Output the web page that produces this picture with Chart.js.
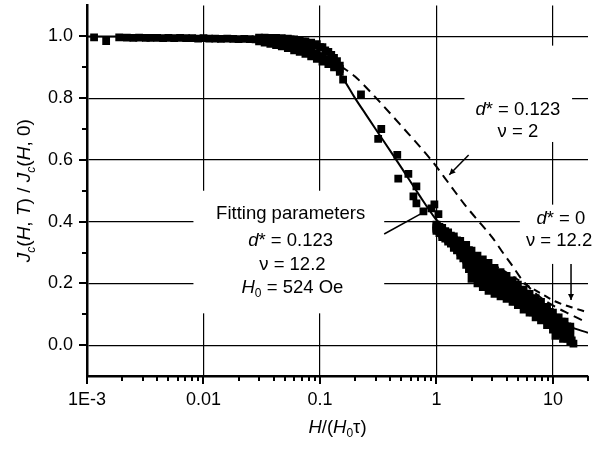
<!DOCTYPE html>
<html>
<head>
<meta charset="utf-8">
<script src="https://cdn.jsdelivr.net/npm/chart.js@4/dist/chart.umd.min.js"></script>
<style>
  html, body { margin: 0; padding: 0; background: #fff; }
  canvas { display: block; }
</style>
</head>
<body>
<canvas id="chart" width="606" height="449"></canvas>
<script>
// measured points: low field plateau
var lowX = [0.00115, 0.00146, 0.00189, 0.0022, 0.0025, 0.0028, 0.0032, 0.0035, 0.004, 0.0045, 0.005, 0.0056, 0.0063,
  0.0071, 0.008, 0.009, 0.01, 0.0112, 0.0126, 0.0141, 0.016, 0.018, 0.02, 0.0224, 0.025, 0.028];
var lowY = [0.997, 0.985, 0.997, 0.996, 0.995, 0.996, 0.995, 0.995, 0.995, 0.994, 0.995, 0.994, 0.995,
  0.994, 0.994, 0.993, 0.994, 0.993, 0.993, 0.992, 0.993, 0.992, 0.991, 0.992, 0.991, 0.99];

// the knee, where the band of points gets thicker
var kneeX = [0.03, 0.0335, 0.0375, 0.042, 0.047, 0.053, 0.06, 0.067, 0.075, 0.084, 0.094, 0.105, 0.118, 0.132, 0.148];
var kneeTop = [0.996, 0.996, 0.995, 0.995, 0.994, 0.993, 0.99, 0.987, 0.984, 0.98, 0.975, 0.965, 0.95, 0.93, 0.905];
var kneeMid = [0.99, 0.988, 0.985, 0.983, 0.98, 0.976, 0.97, 0.965, 0.958, 0.952, 0.945, 0.935, 0.922, 0.91, 0.895];
var kneeBot = [0.984, 0.98, 0.976, 0.972, 0.968, 0.962, 0.955, 0.95, 0.943, 0.935, 0.927, 0.918, 0.91, 0.9, 0.885];
var kneeX2 = [0.0317, 0.0355, 0.0397, 0.0445, 0.05, 0.056, 0.063, 0.071, 0.079, 0.089, 0.1, 0.111, 0.125, 0.14];
var kneeUp = [0.995, 0.994, 0.993, 0.992, 0.991, 0.99, 0.986, 0.983, 0.978, 0.972, 0.965, 0.955, 0.94, 0.92];
var kneeLow = [0.987, 0.983, 0.98, 0.977, 0.973, 0.968, 0.962, 0.957, 0.95, 0.943, 0.935, 0.926, 0.915, 0.903];

// scattered points on the steep part
var midX = [0.158, 0.225, 0.316, 0.336, 0.461, 0.47, 0.574, 0.634, 0.673, 0.673, 0.773, 0.906, 0.96, 1.04];
var midY = [0.86, 0.812, 0.668, 0.70, 0.616, 0.539, 0.555, 0.482, 0.514, 0.459, 0.433, 0.443, 0.456, 0.424];

// high field cloud, several sweeps
var cloudX = [1.0, 1.12, 1.26, 1.41, 1.6, 1.8, 2.0, 2.25, 2.5, 2.8, 3.15, 3.55, 4.0, 4.5, 5.0, 5.6, 6.3, 7.1, 7.9, 8.9, 10, 11.2, 12.6, 14.1];
var cloudA = [0.39, 0.38, 0.365, 0.352, 0.338, 0.325, 0.306, 0.29, 0.278, 0.266, 0.25, 0.236, 0.224, 0.21, 0.196, 0.18, 0.166, 0.152, 0.14, 0.124, 0.105, 0.09, 0.076, 0.06];
var cloudB = [0.385, 0.372, 0.357, 0.342, 0.326, 0.308, 0.288, 0.27, 0.257, 0.244, 0.23, 0.217, 0.205, 0.193, 0.18, 0.165, 0.152, 0.136, 0.124, 0.11, 0.09, 0.074, 0.062, 0.048];
var cloudC = [0.38, 0.365, 0.35, 0.333, 0.315, 0.293, 0.268, 0.25, 0.235, 0.22, 0.207, 0.196, 0.185, 0.174, 0.162, 0.148, 0.135, 0.121, 0.11, 0.095, 0.078, 0.062, 0.05, 0.035];
var cloudD = [0.375, 0.358, 0.342, 0.324, 0.302, 0.277, 0.24, 0.222, 0.208, 0.196, 0.186, 0.176, 0.166, 0.156, 0.145, 0.132, 0.12, 0.106, 0.095, 0.08, 0.064, 0.048, 0.037, 0.022];
var cloudE = [0.37, 0.35, 0.335, 0.315, 0.29, 0.26, 0.215, 0.2, 0.188, 0.176, 0.166, 0.158, 0.15, 0.14, 0.13, 0.115, 0.105, 0.09, 0.08, 0.065, 0.05, 0.035, 0.025, 0.01];
// second set of sweeps, taken between the fields above
var cloudX2 = [1.06, 1.19, 1.33, 1.5, 1.7, 1.9, 2.12, 2.37, 2.65, 3.0, 3.35, 3.75, 4.25, 4.75, 5.3, 5.95, 6.7, 7.5, 8.4, 9.4, 10.6, 11.9, 13.3];
var cloudF = [0.383, 0.369, 0.355, 0.339, 0.323, 0.308, 0.287, 0.275, 0.26, 0.249, 0.232, 0.221, 0.207, 0.196, 0.179, 0.167, 0.15, 0.139, 0.124, 0.108, 0.089, 0.076, 0.061];
var cloudG = [0.372, 0.36, 0.344, 0.329, 0.31, 0.289, 0.268, 0.252, 0.24, 0.224, 0.214, 0.2, 0.19, 0.175, 0.165, 0.149, 0.137, 0.122, 0.111, 0.093, 0.077, 0.063, 0.048];
var cloudH = [0.37, 0.355, 0.338, 0.317, 0.296, 0.27, 0.244, 0.23, 0.214, 0.203, 0.19, 0.182, 0.169, 0.16, 0.146, 0.135, 0.119, 0.109, 0.094, 0.08, 0.062, 0.05, 0.035];
var cloudI = [0.363, 0.345, 0.329, 0.307, 0.281, 0.246, 0.217, 0.204, 0.193, 0.179, 0.172, 0.162, 0.154, 0.142, 0.132, 0.117, 0.106, 0.091, 0.081, 0.066, 0.05, 0.037, 0.021];
var tailX = [10.5, 11.5, 12.2, 13, 14.5, 15];
var tailY = [0.03, 0.055, 0.02, 0.04, 0.015, 0.005];

// curves
var fitX = [0.001, 0.01, 0.03, 0.05, 0.08, 0.1, 0.13, 0.16, 0.2, 0.25, 0.3, 0.4, 0.5, 0.7, 1, 1.35, 1.9, 2.5, 3.5, 5, 7, 10, 14, 20];
var fitY = [1.0, 0.998, 0.993, 0.985, 0.965, 0.945, 0.905, 0.86, 0.8, 0.745, 0.7, 0.63, 0.575, 0.49, 0.405, 0.35, 0.305, 0.275, 0.23, 0.18, 0.135, 0.09, 0.06, 0.04];
var nu2X = [0.12, 0.143, 0.2, 0.304, 0.5, 0.9, 1.3, 1.74, 2.44, 3.0, 3.63, 4.43, 5.35, 7.5, 10.4, 14, 18];
var nu2Y = [0.935, 0.91, 0.87, 0.8, 0.71, 0.6, 0.52, 0.456, 0.39, 0.35, 0.305, 0.26, 0.215, 0.16, 0.125, 0.1, 0.08];
var d0X = [1, 1.5, 2, 2.7, 3.63, 5.35, 8.5, 10.4, 14.6, 20];
var d0Y = [0.405, 0.345, 0.305, 0.27, 0.245, 0.205, 0.16, 0.142, 0.122, 0.106];

var xLabels = { '0.001': '1E-3', '0.01': '0.01', '0.1': '0.1', '1': '1', '10': '10' };
var yLabels = ['0.0', '0.2', '0.4', '0.6', '0.8', '1.0'];

var FONT = '"Liberation Sans", Arial, Helvetica, sans-serif';

function pts(xs, ys) {
  return xs.map(function(x, i) { return { x: x, y: ys[i] }; });
}

function squares(xs, ys) {
  return {
    data: pts(xs, ys), showLine: false, pointStyle: 'rect', pointRadius: 5.5, pointHoverRadius: 5.5,
    backgroundColor: '#000', borderColor: '#000', borderWidth: 0, order: 0
  };
}

function curve(xs, ys, dash) {
  return {
    data: pts(xs, ys), showLine: true, pointRadius: 0, borderColor: '#000', borderWidth: 2,
    borderDash: dash, cubicInterpolationMode: 'monotone', fill: false, order: 1
  };
}

function isMajorX(v) {
  var l = Math.log10(v);
  return Math.abs(l - Math.round(l)) < 1e-6;
}
function isMajorY(v) {
  return Math.abs(v * 5 - Math.round(v * 5)) < 1e-6 && v > -1e-6;
}

// rich text: parts are [text, style]; style has i (italic) and/or s (subscript)
function partFont(p, size) {
  var sub = p[1].indexOf('s') >= 0;
  var it = p[1].indexOf('i') >= 0;
  return (it ? 'italic ' : '') + (sub ? size * 0.65 : size).toFixed(1) + 'px ' + FONT;
}
function drawRich(ctx, parts, cx, cy, size) {
  var w = 0;
  parts.forEach(function(p) { ctx.font = partFont(p, size); w += ctx.measureText(p[0]).width; });
  var x = cx - w / 2;
  ctx.textAlign = 'left';
  ctx.textBaseline = 'middle';
  parts.forEach(function(p) {
    ctx.font = partFont(p, size);
    var dy = p[1].indexOf('s') >= 0 ? size * 0.32 : 0;
    ctx.fillText(p[0], x, cy + dy);
    x += ctx.measureText(p[0]).width;
  });
}

// annotation boxes (white, hide the grid), labels and arrows, in data units
var boxes = [
  { x0: 0.0082, x1: 0.356, y0: 0.103, y1: 0.50 },
  { x0: 1.74, x1: 14.6, y0: 0.658, y1: 0.97 },
  { x0: 5.2, x1: 25, y0: 0.263, y1: 0.455 }
];
var notes = [
  { x: 0.056, y: 0.424, parts: [['Fitting parameters', '']] },
  { x: 0.056, y: 0.337, parts: [['d', 'i'], ['* = 0.123', '']] },
  { x: 0.058, y: 0.26, parts: [['\u03bd = 12.2', '']] },
  { x: 0.058, y: 0.186, parts: [['H', 'i'], ['0', 's'], [' = 524 Oe', '']] },
  { x: 5.0, y: 0.761, parts: [['d', 'i'], ['* = 0.123', '']] },
  { x: 5.0, y: 0.69, parts: [['\u03bd = 2', '']] },
  { x: 11.7, y: 0.408, parts: [['d', 'i'], ['* = 0', '']] },
  { x: 11.3, y: 0.337, parts: [['\u03bd = 12.2', '']] }
];
var arrows = [
  { x0: 0.356, y0: 0.36, x1: 0.773, y1: 0.43, head: false },
  { x0: 1.89, y0: 0.616, x1: 1.29, y1: 0.552, head: true },
  { x0: 14.3, y0: 0.263, x1: 14.3, y1: 0.146, head: true }
];

var decor = {
  id: 'decor',
  beforeDatasetsDraw: function(chart) {
    var ctx = chart.ctx, xs = chart.scales.x, ys = chart.scales.y;
    ctx.save();
    ctx.fillStyle = '#fff';
    boxes.forEach(function(b) {
      var l = xs.getPixelForValue(b.x0), r = xs.getPixelForValue(b.x1);
      var t = ys.getPixelForValue(b.y1), btm = ys.getPixelForValue(b.y0);
      ctx.fillRect(l, t, r - l, btm - t);
    });
    ctx.restore();
  },
  afterDraw: function(chart) {
    var ctx = chart.ctx, xs = chart.scales.x, ys = chart.scales.y, area = chart.chartArea;
    ctx.save();
    ctx.strokeStyle = '#000';
    ctx.fillStyle = '#000';
    // tick marks
    ctx.lineWidth = 2;
    for (var k = -3; k <= 1; k++) {
      for (var m = 1; m <= 9; m++) {
        var v = m * Math.pow(10, k);
        if (v > 20.001) break;
        var px = Math.round(xs.getPixelForValue(v));
        var len = m === 1 ? 8 : 5;
        ctx.beginPath(); ctx.moveTo(px, area.bottom); ctx.lineTo(px, area.bottom + len); ctx.stroke();
      }
    }
    for (var i = 0; i <= 10; i++) {
      var yv = i / 10;
      var py = Math.round(ys.getPixelForValue(yv));
      var ln = i % 2 === 0 ? 8 : 5;
      ctx.beginPath(); ctx.moveTo(area.left, py); ctx.lineTo(area.left - ln, py); ctx.stroke();
    }
    // arrows
    ctx.lineWidth = 1.5;
    arrows.forEach(function(a) {
      var x0 = xs.getPixelForValue(a.x0), y0 = ys.getPixelForValue(a.y0);
      var x1 = xs.getPixelForValue(a.x1), y1 = ys.getPixelForValue(a.y1);
      ctx.beginPath(); ctx.moveTo(x0, y0); ctx.lineTo(x1, y1); ctx.stroke();
      if (a.head) {
        var ang = Math.atan2(y1 - y0, x1 - x0), hl = 6, hw = 3;
        ctx.beginPath();
        ctx.moveTo(x1, y1);
        ctx.lineTo(x1 - hl * Math.cos(ang) + hw * Math.sin(ang), y1 - hl * Math.sin(ang) - hw * Math.cos(ang));
        ctx.lineTo(x1 - hl * Math.cos(ang) - hw * Math.sin(ang), y1 - hl * Math.sin(ang) + hw * Math.cos(ang));
        ctx.closePath(); ctx.fill();
      }
    });
    // labels
    notes.forEach(function(n) {
      drawRich(ctx, n.parts, xs.getPixelForValue(n.x), ys.getPixelForValue(n.y), 18.5);
    });
    // axis titles
    drawRich(ctx, [['H', 'i'], ['/(', ''], ['H', 'i'], ['0', 's'], ['\u03c4)', '']],
      (area.left + area.right) / 2, area.bottom + 52, 18.5);
    ctx.save();
    ctx.translate(25, (area.top + area.bottom) / 2);
    ctx.rotate(-Math.PI / 2);
    drawRich(ctx, [['J', 'i'], ['c', 'is'], ['(', ''], ['H', 'i'], [', ', ''], ['T', 'i'], [') / ', ''],
      ['J', 'i'], ['c', 'is'], ['(', ''], ['H', 'i'], [', 0)', '']], 0, 0, 19);
    ctx.restore();
    ctx.restore();
  }
};

new Chart(document.getElementById('chart'), {
  type: 'scatter',
  data: {
    datasets: [
      squares(lowX, lowY),
      squares(kneeX, kneeTop), squares(kneeX, kneeMid), squares(kneeX, kneeBot),
      squares(kneeX2, kneeUp), squares(kneeX2, kneeLow),
      squares(midX, midY),
      squares(cloudX, cloudA), squares(cloudX, cloudB), squares(cloudX, cloudC),
      squares(cloudX, cloudD), squares(cloudX, cloudE),
      squares(cloudX2, cloudF), squares(cloudX2, cloudG), squares(cloudX2, cloudH), squares(cloudX2, cloudI),
      squares(tailX, tailY),
      curve(fitX, fitY, []),
      curve(nu2X, nu2Y, [9, 6]),
      curve(d0X, d0Y, [7, 5])
    ]
  },
  options: {
    responsive: false,
    animation: false,
    devicePixelRatio: 1,
    layout: { padding: { left: 0, right: 18, top: 3, bottom: 0 } },
    plugins: { legend: { display: false }, tooltip: { enabled: false } },
    scales: {
      x: {
        type: 'logarithmic', min: 0.001, max: 20,
        afterBuildTicks: function(scale) {
          var t = [];
          for (var k = -3; k <= 1; k++) t.push({ value: Math.pow(10, k) });
          scale.ticks = t;
        },
        afterFit: function(scale) {
          scale.height = 73;
          scale.paddingLeft = 0; scale.paddingRight = 0;
        },
        border: { display: true, color: '#000', width: 2.5 },
        grid: {
          drawTicks: false, lineWidth: 1.2,
          color: function(c) { return c.tick && isMajorX(c.tick.value) && c.tick.value > 0.0011 ? '#000' : 'rgba(0,0,0,0)'; }
        },
        ticks: {
          autoSkip: false, maxRotation: 0, padding: 13, color: '#000',
          font: { family: FONT, size: 18 },
          callback: function(v) { return xLabels[String(+v.toPrecision(3))] || ''; }
        }
      },
      y: {
        min: -0.1, max: 1.1,
        afterBuildTicks: function(scale) {
          var t = [];
          for (var i = 0; i < yLabels.length; i++) t.push({ value: i * 0.2 });
          scale.ticks = t;
        },
        afterFit: function(scale) {
          scale.width = 87;
          scale.paddingTop = 0; scale.paddingBottom = 0;
        },
        border: { display: true, color: '#000', width: 2.5 },
        grid: {
          drawTicks: false, lineWidth: 1.2,
          color: function(c) { return c.tick && isMajorY(c.tick.value) ? '#000' : 'rgba(0,0,0,0)'; }
        },
        ticks: {
          padding: 14, color: '#000',
          font: { family: FONT, size: 18 },
          callback: function(v, i) { return yLabels[i]; }
        }
      }
    }
  },
  plugins: [decor]
});
</script>
</body>
</html>
